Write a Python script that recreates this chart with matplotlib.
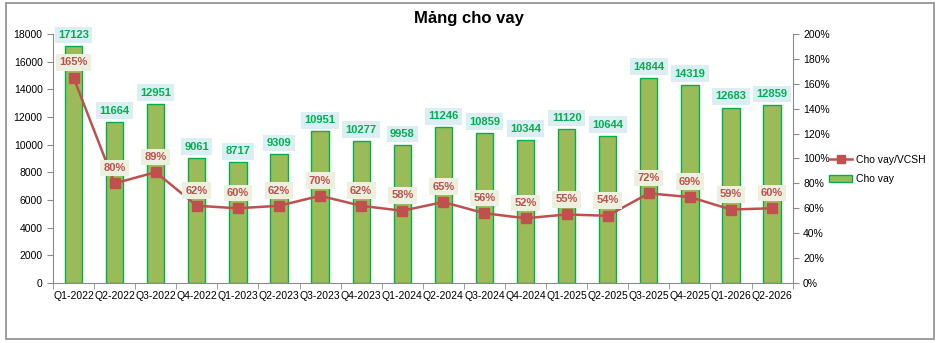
import numpy as np
import matplotlib
matplotlib.use('Agg')
import matplotlib.pyplot as plt
from matplotlib.patches import Rectangle, Patch
from matplotlib.lines import Line2D
from matplotlib.ticker import FuncFormatter

quarters = ['Q1-2022', 'Q2-2022', 'Q3-2022', 'Q4-2022', 'Q1-2023', 'Q2-2023',
            'Q3-2023', 'Q4-2023', 'Q1-2024', 'Q2-2024', 'Q3-2024', 'Q4-2024',
            'Q1-2025', 'Q2-2025', 'Q3-2025', 'Q4-2025', 'Q1-2026', 'Q2-2026']
cho_vay = [17123, 11664, 12951, 9061, 8717, 9309, 10951, 10277, 9958,
           11246, 10859, 10344, 11120, 10644, 14844, 14319, 12683, 12859]
ty_le = [165, 80, 89, 62, 60, 62, 70, 62, 58, 65, 56, 52, 55, 54, 72, 69, 59, 60]

plt.rcParams['font.family'] = ['Liberation Sans', 'DejaVu Sans']

fig = plt.figure(figsize=(9.38, 3.43), dpi=100)
fig.patches.append(Rectangle((0.006, 0.012), 0.99, 0.98, transform=fig.transFigure,
                             fill=False, edgecolor='#8c8c8c', linewidth=1.2))
ax = fig.add_axes([0.0565, 0.175, 0.7885, 0.726])
x = np.arange(len(quarters))

ax.bar(x, cho_vay, width=0.42, color='#9bbb59', edgecolor='#00b050', linewidth=1, zorder=2)
ax.set_xlim(-0.5, len(quarters) - 0.5)
ax.set_ylim(0, 18000)
ax.set_yticks(range(0, 18001, 2000))
ax.set_xticks(x)
ax.set_xticklabels(quarters)
ax.set_xticks(np.arange(-0.5, len(quarters), 1), minor=True)
ax.tick_params(axis='x', which='major', length=0, labelsize=7.5, pad=6)
ax.tick_params(axis='x', which='minor', length=4, color='#8c8c8c')
ax.tick_params(axis='y', labelsize=7.5, length=4, color='#8c8c8c')
for s in ['top', 'right']:
    ax.spines[s].set_visible(False)
for s in ['left', 'bottom']:
    ax.spines[s].set_color('#8c8c8c')

ax2 = ax.twinx()
ax2.plot(x, ty_le, color='#c0504d', linewidth=1.8, marker='s', markersize=6.5, zorder=3)
ax2.set_ylim(0, 200)
ax2.set_yticks(range(0, 201, 20))
ax2.yaxis.set_major_formatter(FuncFormatter(lambda v, p: '%d%%' % v))
ax2.tick_params(axis='y', labelsize=7.5, length=4, color='#8c8c8c')
for s in ['top', 'left', 'bottom']:
    ax2.spines[s].set_visible(False)
ax2.spines['right'].set_color('#8c8c8c')

for i, v in enumerate(cho_vay):
    ax2.annotate(str(v), xy=(i, v / 90.0), xytext=(0, 8), textcoords='offset points',
                 ha='center', va='center', fontsize=8, fontweight='bold', color='#00b050',
                 bbox=dict(boxstyle='square,pad=0.3', facecolor='#daeef3', edgecolor='none'),
                 zorder=5)
for i, v in enumerate(ty_le):
    ax2.annotate('%d%%' % v, xy=(i, v), xytext=(0, 11), textcoords='offset points',
                 ha='center', va='center', fontsize=8, fontweight='bold', color='#c0504d',
                 bbox=dict(boxstyle='square,pad=0.3', facecolor='#ebf1de', edgecolor='none'),
                 zorder=5)

fig.text(0.5, 0.947, 'Mảng cho vay', ha='center', va='center', fontsize=12, fontweight='bold')

handles = [Line2D([], [], color='#c0504d', linewidth=1.8, marker='s', markersize=6),
           Patch(facecolor='#9bbb59', edgecolor='#00b050')]
fig.legend(handles, ['Cho vay/VCSH', 'Cho vay'], loc='center left',
           bbox_to_anchor=(0.884, 0.505), borderaxespad=0, borderpad=0, frameon=False,
           fontsize=7.5, handlelength=2.2, handletextpad=0.4, labelspacing=0.9)

fig.savefig('out.png', dpi=100)
